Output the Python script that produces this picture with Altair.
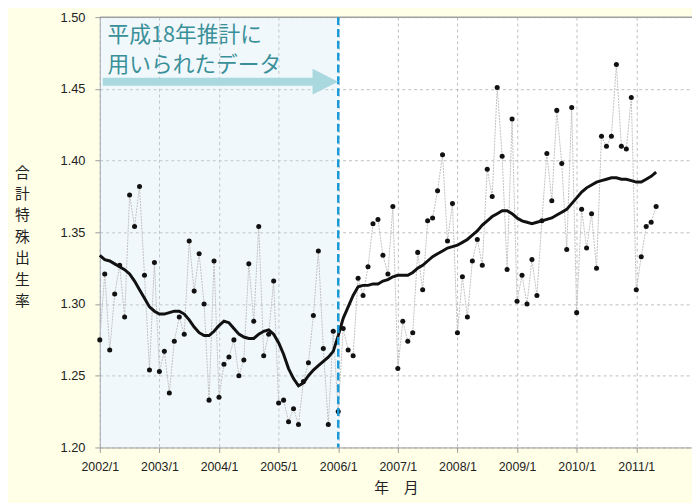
import altair as alt
import pandas as pd

years = list(range(2002, 2012))

# monthly total fertility rate (dots), 2002/1 .. 2011/5
tfr = [
    1.275, 1.321, 1.268, 1.307, 1.327, 1.291, 1.376, 1.354, 1.382, 1.320, 1.254, 1.329,  # 2002
    1.253, 1.267, 1.238, 1.274, 1.291, 1.279, 1.344, 1.309, 1.335, 1.300, 1.233, 1.330,  # 2003
    1.235, 1.258, 1.263, 1.275, 1.250, 1.261, 1.328, 1.288, 1.354, 1.264, 1.279, 1.316,  # 2004
    1.231, 1.233, 1.218, 1.227, 1.216, 1.246, 1.259, 1.292, 1.337, 1.269, 1.216, 1.281,  # 2005
    1.225, 1.283, 1.268, 1.264, 1.318, 1.306, 1.326, 1.356, 1.359, 1.334, 1.321, 1.368,  # 2006
    1.255, 1.288, 1.274, 1.280, 1.336, 1.310, 1.358, 1.360, 1.379, 1.404, 1.344, 1.370,  # 2007
    1.280, 1.319, 1.291, 1.330, 1.345, 1.327, 1.394, 1.375, 1.451, 1.403, 1.324, 1.429,  # 2008
    1.302, 1.320, 1.300, 1.331, 1.306, 1.358, 1.405, 1.372, 1.435, 1.398, 1.338, 1.437,  # 2009
    1.294, 1.366, 1.339, 1.363, 1.325, 1.417, 1.410, 1.417, 1.467, 1.410, 1.408, 1.444,  # 2010
    1.310, 1.333, 1.354, 1.357, 1.368,                                                   # 2011
]

# smoothed trend (thick line)
trend = [
    1.334, 1.331, 1.330, 1.328, 1.326, 1.324, 1.321, 1.316, 1.310, 1.304, 1.298, 1.295,
    1.293, 1.293, 1.294, 1.295, 1.295, 1.293, 1.289, 1.284, 1.280, 1.278, 1.278, 1.281,
    1.285, 1.288, 1.287, 1.283, 1.279, 1.277, 1.276, 1.276, 1.279, 1.281, 1.282, 1.279,
    1.273, 1.265, 1.255, 1.248, 1.243, 1.245, 1.250, 1.254, 1.257, 1.260, 1.263, 1.267,
    1.278, 1.290, 1.298, 1.306, 1.312, 1.313, 1.313, 1.314, 1.314, 1.316, 1.317, 1.319,
    1.320, 1.320, 1.320, 1.322, 1.325, 1.327, 1.330, 1.333, 1.335, 1.337, 1.339, 1.340,
    1.341, 1.343, 1.345, 1.348, 1.351, 1.355, 1.358, 1.361, 1.363, 1.365, 1.365, 1.363,
    1.360, 1.358, 1.357, 1.356, 1.357, 1.358, 1.359, 1.360, 1.362, 1.364, 1.366, 1.370,
    1.374, 1.378, 1.381, 1.383, 1.385, 1.386, 1.387, 1.388, 1.388, 1.387, 1.387, 1.386,
    1.385, 1.385, 1.387, 1.389, 1.392,
]

y_ticks = [1.20, 1.25, 1.30, 1.35, 1.40, 1.45, 1.50]
y_title = ["合", "計", "特", "殊", "出", "生", "率"]
note_lines = ["平成18年推計に", "用いられたデータ"]

t = [2002 + i / 12 for i in range(len(tfr))]
df = pd.DataFrame({"t": t, "tfr": tfr, "trend": trend})

W, H = 600, 436
X0, X1 = 2002.0, 2011.935
xs = alt.Scale(domain=[X0, X1], nice=False, zero=False)
ys = alt.Scale(domain=[1.20, 1.50], nice=False, zero=False)

base_x_axis = alt.Axis(
    values=years, labelExpr="datum.value + '/1'", title="年　月",
    grid=True, gridDash=[3, 3], gridColor="#bdbdbd", tickColor="#9a9a9a",
    domainColor="#9a9a9a", tickSize=5, labelPadding=8, labelFontSize=12.5,
    labelFlush=False, labelOverlap=False,
    labelColor="#222222", titleFontSize=15, titleFont="Noto Sans CJK JP",
    titleFontWeight="normal", titleColor="#222222", titleY=41, titleBaseline="middle",
)
base_y_axis = alt.Axis(
    values=y_ticks, format=".2f", title=y_title, titleAngle=0,
    grid=True, gridDash=[3, 3], gridColor="#bdbdbd", tickColor="#9a9a9a",
    domainColor="#9a9a9a", tickSize=5, labelPadding=10, labelFontSize=13,
    labelFlush=False,
    labelColor="#222222", titleFontSize=15, titleFont="Noto Sans CJK JP",
    titleFontWeight="normal", titleColor="#222222", titleLineHeight=21.7,
    titleX=-79, titleY=157, titleAlign="center", titleBaseline="middle",
)

shade = alt.Chart(pd.DataFrame({"a": [X0], "b": [2006.0]})).mark_rect(
    color="#C8E4F2", opacity=0.25
).encode(
    x=alt.X("a:Q", scale=xs, axis=base_x_axis),
    x2="b:Q",
    y=alt.value(0), y2=alt.value(H),
)

thin = alt.Chart(df).mark_line(color="#c0c0c0", strokeWidth=1, strokeDash=[2, 1]).encode(
    x=alt.X("t:Q", scale=xs), y=alt.Y("tfr:Q", scale=ys, axis=base_y_axis)
)
dots = alt.Chart(df).mark_circle(color="#111111", size=26, opacity=1).encode(
    x=alt.X("t:Q", scale=xs), y=alt.Y("tfr:Q", scale=ys)
)
smooth = alt.Chart(df).mark_line(color="#111111", strokeWidth=3).encode(
    x=alt.X("t:Q", scale=xs), y=alt.Y("trend:Q", scale=ys)
)

top_rule = alt.Chart(pd.DataFrame({"y": [1.50]})).mark_rule(
    color="#a0a0a0", strokeWidth=1.5
).encode(y=alt.Y("y:Q", scale=ys))

vline = alt.Chart(pd.DataFrame({"x": [2006.0]})).mark_rule(
    color="#1A9AD7", strokeWidth=2.5, strokeDash=[8, 4]
).encode(x=alt.X("x:Q", scale=xs), y=alt.value(0), y2=alt.value(H))

arrow_shaft = alt.Chart(pd.DataFrame({"a": [2002.05], "b": [2005.66], "y": [1.455]})).mark_rule(
    color="#A9D9DE", strokeWidth=8
).encode(x=alt.X("a:Q", scale=xs), x2="b:Q", y=alt.Y("y:Q", scale=ys))

arrow_head = alt.Chart(pd.DataFrame({"x": [2005.785], "y": [1.455]})).mark_point(
    shape="M-1,-1L1,0L-1,1Z", size=676, filled=True, color="#A9D9DE", opacity=1
).encode(x=alt.X("x:Q", scale=xs), y=alt.Y("y:Q", scale=ys))

note = alt.Chart(pd.DataFrame({"x": [2002.13, 2002.13], "y": [1.4877, 1.4667], "txt": note_lines})).mark_text(
    align="left", baseline="middle", fontSize=22, font="Noto Sans CJK JP", color="#3A9098"
).encode(x=alt.X("x:Q", scale=xs), y=alt.Y("y:Q", scale=ys), text="txt:N")

chart = alt.layer(
    shade, thin, smooth, dots, top_rule, vline, arrow_shaft, arrow_head, note
).properties(
    width=W, height=H,
    autosize=alt.AutoSizeParams(type="none"),
    padding={"left": 93, "top": 6, "right": 0, "bottom": 53},
    background="#FFFFE8",
).configure_view(
    stroke=None, fill="white"
).configure_axis(
    labelFont="Liberation Sans"
)

chart.save("out.html", embed_options={"renderer": "svg", "actions": False})
